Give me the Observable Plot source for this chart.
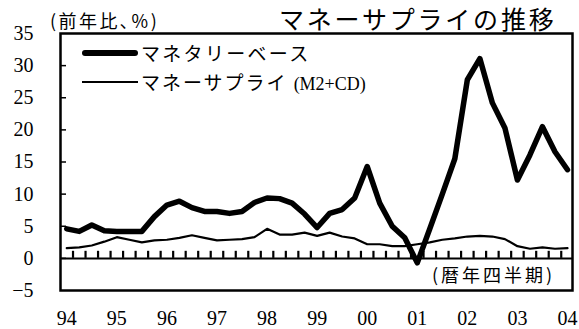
<!DOCTYPE html>
<html><head><meta charset="utf-8">
<script src="https://cdn.jsdelivr.net/npm/d3@7"></script>
<script src="https://cdn.jsdelivr.net/npm/@observablehq/plot@0.6"></script>
<style>
body{margin:0;background:#fff;}
#wrap{position:relative;width:579px;height:329px;}
#wrap svg{position:absolute;left:0;top:0;}
.t{position:absolute;font-family:"Noto Sans CJK JP";color:#000;white-space:nowrap;line-height:1;}
.sw{position:absolute;background:#000;}
</style></head><body><div id="wrap"></div>
<script>
// Monetary base, y/y % (quarterly, 94Q1 .. 04Q1)
const monetaryBase = [4.6, 4.2, 5.2, 4.3, 4.2, 4.2, 4.2, 6.5, 8.3, 8.9, 7.9, 7.3, 7.3, 7.0, 7.3, 8.7, 9.4, 9.3, 8.6, 6.9, 4.8, 7.0, 7.6, 9.4, 14.3, 8.6, 5.0, 3.2, -0.7, 4.6, 10.0, 15.5, 27.8, 31.1, 24.2, 20.3, 12.2, 16.1, 20.5, 16.6, 13.8];
// Money supply (M2+CD), y/y %
const moneySupply = [1.6, 1.7, 2.0, 2.6, 3.3, 2.9, 2.5, 2.8, 2.9, 3.2, 3.6, 3.2, 2.8, 2.9, 3.0, 3.3, 4.6, 3.7, 3.7, 4.0, 3.5, 4.0, 3.4, 3.1, 2.2, 2.2, 1.9, 1.9, 2.2, 2.5, 2.9, 3.1, 3.4, 3.5, 3.4, 3.0, 1.9, 1.5, 1.7, 1.5, 1.6];
const yearLabels = ["94","95","96","97","98","99","00","01","02","03","04"];
const yTickValues = [-5, 0, 5, 10, 15, 20, 25, 30, 35];
const seriesNames = ["マネタリーベース", "マネーサプライ"];

const data = monetaryBase.map((v, i) => ({q: i, mb: v, ms: moneySupply[i]}));
const yearPositions = yearLabels.map((_, k) => k * 4);
const quarterTicks = monetaryBase.slice(1).map((_, i) => i + 0.5);

const chart = Plot.plot({
  width: 579, height: 329,
  marginLeft: 60, marginRight: 7, marginTop: 33, marginBottom: 39,
  style: {fontFamily: "Liberation Serif", fontSize: "20px", color: "#000", background: "transparent"},
  x: {domain: [-0.5, 40.4], label: null},
  y: {domain: [-5, 35], label: null},
  marks: [
    Plot.axisY(yTickValues, {tickSize: 0, tickPadding: 27, fontSize: 20}),
    Plot.axisX(yearPositions, {tickSize: 0, tickPadding: 20, fontSize: 20, tickFormat: d => yearLabels[d / 4]}),
    Plot.ruleY(yTickValues.slice(1, -1), {x1: -0.5, x2: -0.02, strokeWidth: 1.5}),
    Plot.ruleY([0], {strokeWidth: 2}),
    Plot.ruleX(quarterTicks, {y1: 0, y2: 1.1, strokeWidth: 2.2}),
    Plot.line(data, {x: "q", y: "ms", strokeWidth: 2.2, strokeLinejoin: "round"}),
    Plot.line(data, {x: "q", y: "mb", strokeWidth: 5.5, strokeLinejoin: "round", strokeLinecap: "round"}),
    Plot.frame({strokeWidth: 2.5})
  ]
});
const wrap = document.getElementById("wrap");
wrap.appendChild(chart);

function addText(txt, left, top, size, extra) {
  const d = document.createElement("div");
  d.className = "t";
  d.style.left = left + "px"; d.style.top = top + "px"; d.style.fontSize = size + "px";
  if (extra) Object.assign(d.style, extra);
  d.innerHTML = txt;
  wrap.appendChild(d);
  return d;
}
function addSwatch(left, top, w, h, r) {
  const d = document.createElement("div");
  d.className = "sw";
  Object.assign(d.style, {left: left + "px", top: top + "px", width: w + "px", height: h + "px", borderRadius: r + "px"});
  wrap.appendChild(d);
}
addText("(前年比､%)", 50, 11, 18, {letterSpacing: "2.5px"});
addText("マネーサプライの推移", 279, 6, 25, {letterSpacing: "2.8px"});
addSwatch(82, 50, 56, 6, 3);
addText(seriesNames[0], 141, 43, 19, {letterSpacing: "2.3px"});
addSwatch(82, 81, 56, 2, 0);
addText(seriesNames[1] + '<span style="font-family:\'Liberation Serif\';font-size:18px;letter-spacing:0;margin-left:6px">(M2+CD)</span>', 141, 72, 19, {letterSpacing: "2px"});
addText("(暦年四半期)", 432, 265, 18, {letterSpacing: "3px"});
</script>
</body></html>
